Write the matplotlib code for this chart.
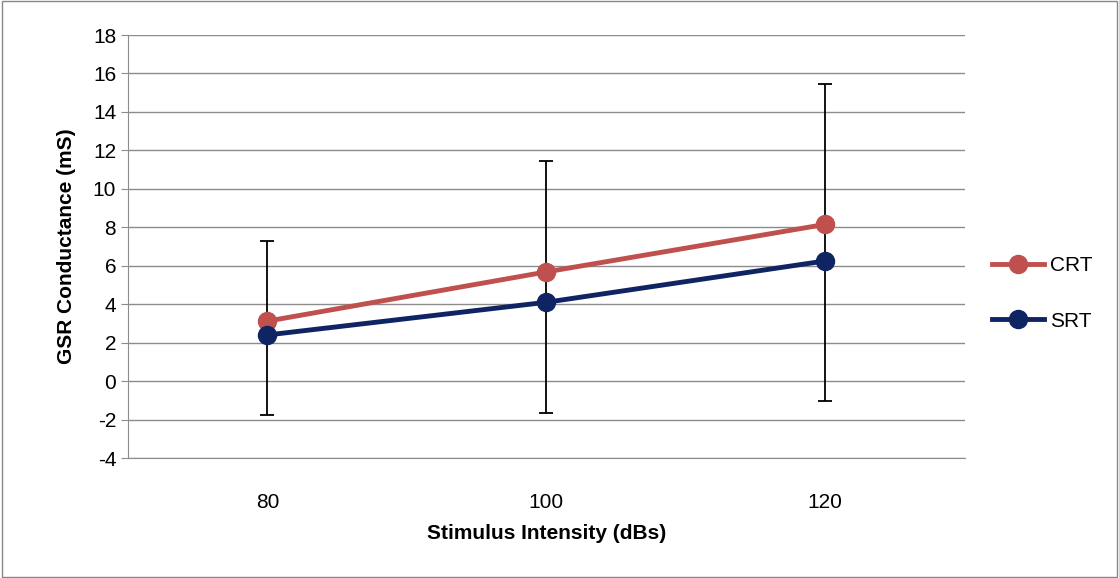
import matplotlib
matplotlib.use("Agg")
import matplotlib.pyplot as plt
import numpy as np

categories = ["80", "100", "120"]
crt = [3.12, 5.68, 8.15]
srt = [2.40, 4.10, 6.25]
err_high = [7.3, 11.45, 15.45]
err_low = [-1.78, -1.66, -1.05]

plt.rcParams['font.family'] = ['Liberation Sans', 'DejaVu Sans']
plt.rcParams['axes.unicode_minus'] = False
fig = plt.figure(figsize=(11.19, 5.78), dpi=100)
fig.patches.append(plt.Rectangle((0.002, 0.002), 0.996, 0.996, transform=fig.transFigure,
                                 fill=False, edgecolor='#888888', lw=1))
ax = fig.add_axes([0.1144, 0.2076, 0.862 - 0.1144, 0.9394 - 0.2076])
x = np.arange(len(categories)) + 0.5
ax.set_xlim(0, 3)
ax.set_ylim(-4, 18)
ax.set_yticks(range(-4, 19, 2))
ax.yaxis.grid(True, color='#8c8c8c', lw=1)
ax.set_axisbelow(True)
for s in ['top', 'right']:
    ax.spines[s].set_visible(False)
ax.spines['left'].set_color('#8c8c8c')
ax.spines['bottom'].set_color('#8c8c8c')
ax.tick_params(axis='y', length=5, color='#8c8c8c', labelsize=15)
ax.tick_params(axis='x', length=0, labelsize=15, pad=25)
ax.set_xticks(x)
ax.set_xticklabels(categories)

mid = [(h + l) / 2 for h, l in zip(err_high, err_low)]
half = [(h - l) / 2 for h, l in zip(err_high, err_low)]
ax.errorbar(x, mid, yerr=half, fmt='none', ecolor='black', elinewidth=1.3, capsize=5, capthick=1.3, zorder=2)

ax.plot(x, crt, color='#c0504d', lw=3.5, marker='o', ms=13, label='CRT', zorder=3)
ax.plot(x, srt, color='#0f2462', lw=3.5, marker='o', ms=13, label='SRT', zorder=4)

ax.set_xlabel('Stimulus Intensity (dBs)', fontsize=15, fontweight='bold', labelpad=9)
ax.set_ylabel('GSR Conductance (mS)', fontsize=15, fontweight='bold', labelpad=12)
ax.legend(loc='center left', bbox_to_anchor=(1.01, 0.389), frameon=False, fontsize=15,
          handlelength=2.5, labelspacing=1.75, handletextpad=0.3)
fig.savefig('out.png', dpi=100)
